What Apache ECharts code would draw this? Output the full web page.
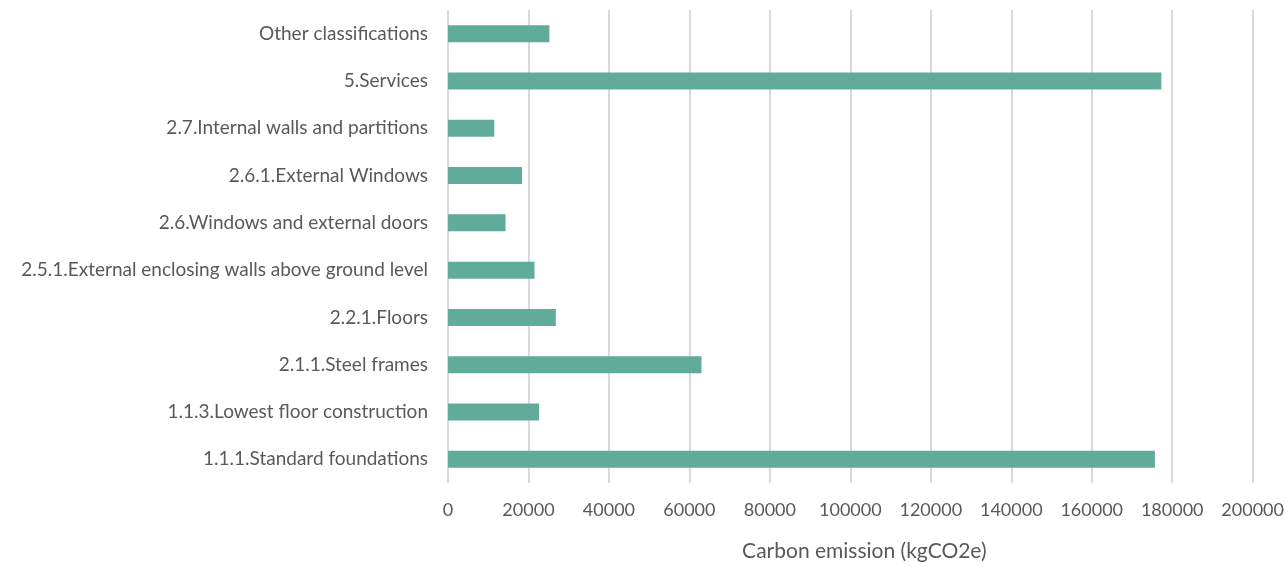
<!DOCTYPE html>
<html>
<head>
<meta charset="utf-8">
<script src="https://cdn.jsdelivr.net/npm/echarts@6/dist/echarts.min.js"></script>
<style>
  html, body { margin: 0; padding: 0; background: #ffffff; }
  #chart { width: 1287px; height: 567px; }
</style>
</head>
<body>
<div id="chart"></div>
<script>
// categories, bottom to top (as drawn by the category axis)
const categories = [
  '1.1.1.Standard foundations',
  '1.1.3.Lowest floor construction',
  '2.1.1.Steel frames',
  '2.2.1.Floors',
  '2.5.1.External enclosing walls above ground level',
  '2.6.Windows and external doors',
  '2.6.1.External Windows',
  '2.7.Internal walls and partitions',
  '5.Services',
  'Other classifications'
];

// carbon emission, kgCO2e
const emissions = [175700, 22650, 63000, 26800, 21500, 14300, 18400, 11500, 177300, 25200];

const xMax = 200000;
const xStep = 20000;

const chart = echarts.init(document.getElementById('chart'));
chart.setOption({
  animation: false,
  grid: { left: 448, right: 33, top: 10, bottom: 83 },
  xAxis: {
    type: 'value',
    min: 0,
    max: xMax,
    interval: xStep,
    name: 'Carbon emission (kgCO2e)',
    nameLocation: 'middle',
    nameGap: 58,
    nameTextStyle: { fontFamily: 'Lato', fontSize: 21, color: '#595959', padding: [0, 0, 0, 28] },
    axisLine: { show: false },
    axisTick: { show: false },
    axisLabel: {
      fontFamily: 'Lato', fontSize: 18, color: '#595959', margin: 18,
      formatter: v => String(v)
    },
    splitLine: { lineStyle: { color: '#d9d9d9', width: 2 } }
  },
  yAxis: {
    type: 'category',
    data: categories,
    axisLine: { show: false },
    axisTick: { show: false },
    axisLabel: { fontFamily: 'Lato', fontSize: 19, color: '#595959', margin: 20 }
  },
  series: [{
    type: 'bar',
    data: emissions,
    barWidth: 17,
    itemStyle: { color: '#60ab9a' }
  }]
});
</script>
</body>
</html>
